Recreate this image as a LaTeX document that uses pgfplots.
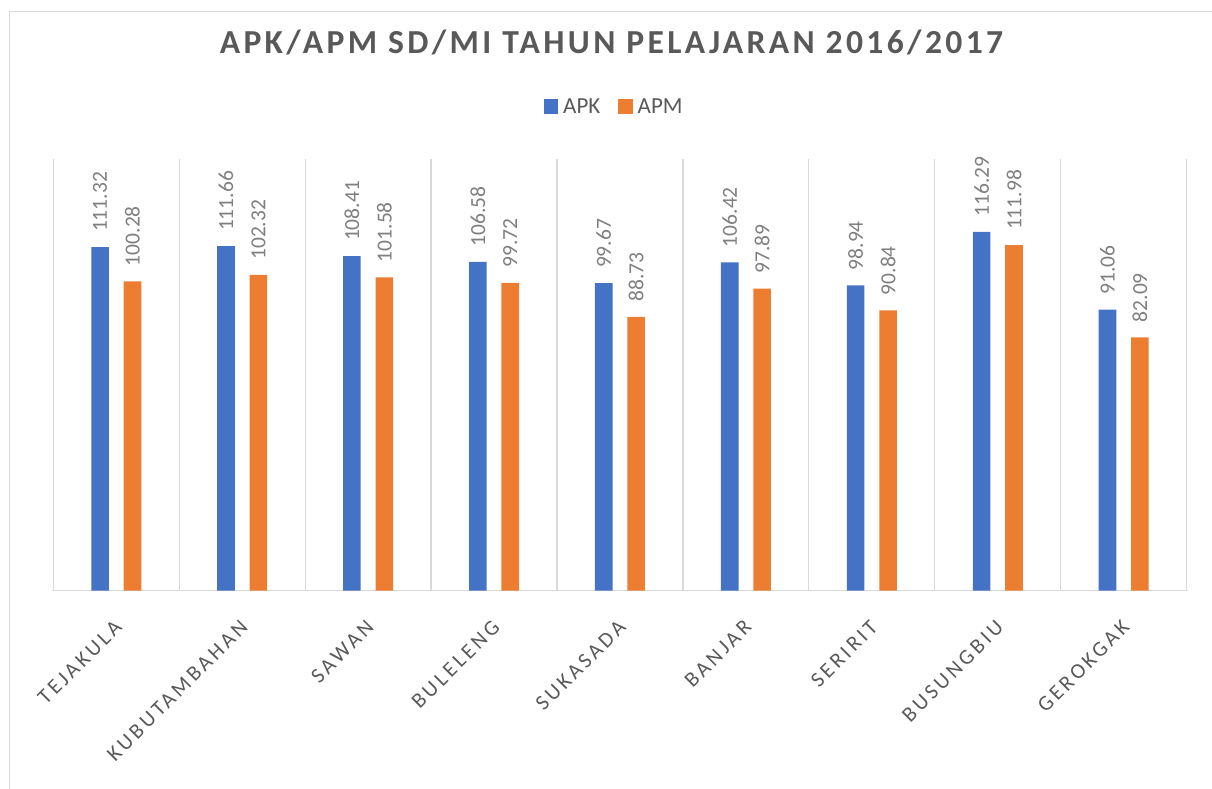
\documentclass[border=0pt]{standalone}
\usepackage{fontspec}
\setmainfont{Carlito}
\newfontfamily\tickfont[LetterSpace=15]{Carlito}
\newfontfamily\titlefont[LetterSpace=10]{Carlito}
\usepackage{pgfplots}
\usepackage{pgfplotstable}
\pgfplotsset{compat=1.18}
\definecolor{apk}{HTML}{4472C4}
\definecolor{apm}{HTML}{ED7D31}
\definecolor{gridc}{HTML}{D9D9D9}
\definecolor{txt}{HTML}{595959}
\definecolor{lbl}{HTML}{7F7F7F}
\pgfplotstableread{
x apk apm
0 111.32 100.28
1 111.66 102.32
2 108.41 101.58
3 106.58 99.72
4 99.67 88.73
5 106.42 97.89
6 98.94 90.84
7 116.29 111.98
8 91.06 82.09
}\data
\begin{document}
\begin{tikzpicture}
\useasboundingbox (-53.3bp,-198.3bp) rectangle (1158.7bp,590.7bp);
\draw[gridc, line width=1.5bp] (-43.8bp,-200bp) -- (-43.8bp,579.2bp) -- (1160bp,579.2bp);
\begin{axis}[
  at={(0,0)}, anchor=south west,
  scale only axis, width=1133.4bp, height=432bp,
  xmin=-0.5, xmax=8.5, ymin=0, ymax=140,
  ybar=14.8bp, bar width=17.6bp,
  axis y line=none, axis x line*=bottom,
  x axis line style={draw=gridc, line width=1.5bp, -},
  ytick=\empty,
  xtick={0,...,8},
  xticklabels={TEJAKULA,KUBUTAMBAHAN,SAWAN,BULELENG,SUKASADA,BANJAR,SERIRIT,BUSUNGBIU,GEROKGAK},
  major tick length=0pt, minor tick length=0pt,
  minor xtick={-0.5,0.5,...,8.5},
  xminorgrids=true,
  minor grid style={draw=gridc, line width=1.2bp},
  xticklabel style={yshift=-28bp, xshift=-3bp, rotate=45, anchor=north east, inner sep=0pt,
    font=\tickfont\fontsize{21.5bp}{26bp}\selectfont, text=txt},
  point meta=explicit symbolic,
  nodes near coords,
  nodes near coords style={rotate=90, anchor=west, inner xsep=15bp, inner ysep=0pt,
    font=\fontsize{21.5bp}{26bp}\selectfont, text=lbl},
  title={APK/APM SD/MI TAHUN PELAJARAN 2016/2017},
  title style={at={(0.4925,1.2308)}, anchor=base, inner sep=0pt,
    font=\titlefont\bfseries\fontsize{33.6bp}{40bp}\selectfont, text=txt},
  legend columns=2,
  legend style={at={(0.4962,1.1204)}, anchor=center, draw=none, fill=none,
    font=\fontsize{23bp}{27bp}\selectfont, text=txt,
    nodes={inner xsep=5bp, inner ysep=0pt},
    /tikz/every even column/.append style={column sep=13bp}},
  legend image code/.code={\fill[#1] (0bp,-7.2bp) rectangle (14.4bp,7.2bp);},
]
\addplot[fill=apk, draw=none] table[x=x, y=apk, meta=apk] {\data};
\addplot[fill=apm, draw=none] table[x=x, y=apm, meta=apm] {\data};
\legend{APK,APM}
\end{axis}
\end{tikzpicture}
\end{document}
